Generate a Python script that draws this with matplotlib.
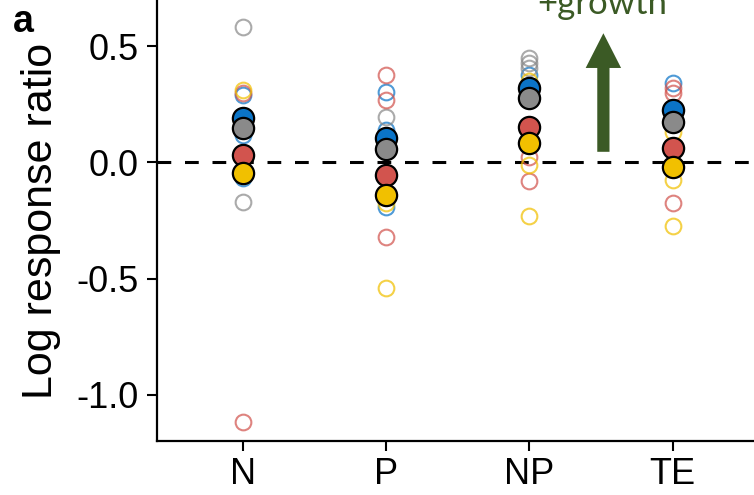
import matplotlib
matplotlib.use("Agg")
import matplotlib.pyplot as plt

plt.rcParams['font.family'] = ['Liberation Sans', 'DejaVu Sans']
plt.rcParams['axes.unicode_minus'] = False

# Nutrient treatments along the x axis
categories = ["N", "P", "NP", "TE"]

# Series colours (mean markers); individual studies use the same colours, faded
series_names = ["blue", "gray", "red", "yellow"]
series_colors = {"blue": "#0B74C7", "gray": "#8A8A8A", "red": "#D2544E", "yellow": "#F1C000"}

# Mean log response ratio for each series and treatment
means_blue = [0.19, 0.105, 0.319, 0.226]
means_gray = [0.15, 0.06, 0.276, 0.176]
means_red = [0.032, -0.054, 0.154, 0.061]
means_yellow = [-0.046, -0.14, 0.083, -0.018]

# Individual log response ratios, per treatment
points_blue = [[0.29, 0.118, -0.066], [0.305, 0.14, -0.19], [0.376], [0.34]]
points_gray = [[0.584, -0.168], [0.197], [0.448, 0.427, 0.405], []]
points_red = [[0.30, -1.115], [0.376, 0.269, -0.322], [0.025, -0.08], [0.319, 0.298, -0.176]]
points_yellow = [[0.31], [-0.174, -0.541], [0.35, -0.011, -0.229], [0.13, -0.075, -0.273]]

yticks = [-1.0, -0.5, 0.0, 0.5]
ytick_labels = ["-1.0", "-0.5", "0.0", "0.5"]

means = {"blue": means_blue, "gray": means_gray, "red": means_red, "yellow": means_yellow}
points = {"blue": points_blue, "gray": points_gray, "red": points_red, "yellow": points_yellow}

W, H = 754, 495
fig = plt.figure(figsize=(W / 100, H / 100), dpi=100)
ax = fig.add_axes([157 / W, 1 - 441 / H, (W - 157) / W + 0.01, 441 / H])

xpos = list(range(1, len(categories) + 1))

# faded open circles for the individual values
for name in series_names:
    for x, vals in zip(xpos, points[name]):
        if vals:
            ax.plot([x] * len(vals), vals, linestyle="none", marker="o",
                    markersize=11.3, markerfacecolor="none",
                    markeredgecolor=series_colors[name], markeredgewidth=1.5,
                    alpha=0.72, zorder=2)

# zero reference line
ax.axhline(0, color="black", linewidth=2.2, dashes=(4.5, 4.5), zorder=1)

# filled circles for the means
for i, name in enumerate(series_names):
    ax.plot(xpos, means[name], linestyle="none", marker="o", markersize=15.3,
            markerfacecolor=series_colors[name], markeredgecolor="black",
            markeredgewidth=1.6, zorder=3 + i)

ax.set_xlim(0.4, 4.62)
ax.set_ylim(-1.198, 0.699)
ax.set_xticks(xpos)
ax.set_xticklabels(categories)
ax.set_yticks(yticks)
ax.set_yticklabels(ytick_labels)
ax.tick_params(axis="both", labelsize=26, width=1.5, length=7.5, color="black")
ax.tick_params(axis="y", pad=6)
ax.tick_params(axis="x", pad=4)
for side in ("top", "right"):
    ax.spines[side].set_visible(False)
for side in ("left", "bottom"):
    ax.spines[side].set_linewidth(1.6)

ax.set_ylabel("Log response ratio", fontsize=31)
ax.yaxis.set_label_coords(-0.159, 0.5)

# growth direction arrow
arrow_x = 3.516
arrow_base, arrow_tip = 0.046, 0.556
green = "#3B5A25"
ax.annotate("", xy=(arrow_x, arrow_tip), xytext=(arrow_x, arrow_base),
            arrowprops=dict(arrowstyle="simple,head_length=25,head_width=25.5,tail_width=8.8",
                            mutation_scale=1, shrinkA=0, shrinkB=0,
                            color=green, linewidth=0))
fig.text(602 / W, 1 - 14 / H, "+growth", color=green, fontsize=25,
         family=["Lato", "DejaVu Sans"], ha="center", va="baseline")

fig.text(13 / W, 1 - 32 / H, "a", fontsize=27, fontweight="bold", ha="left", va="baseline")

fig.savefig("out.png", dpi=100)
